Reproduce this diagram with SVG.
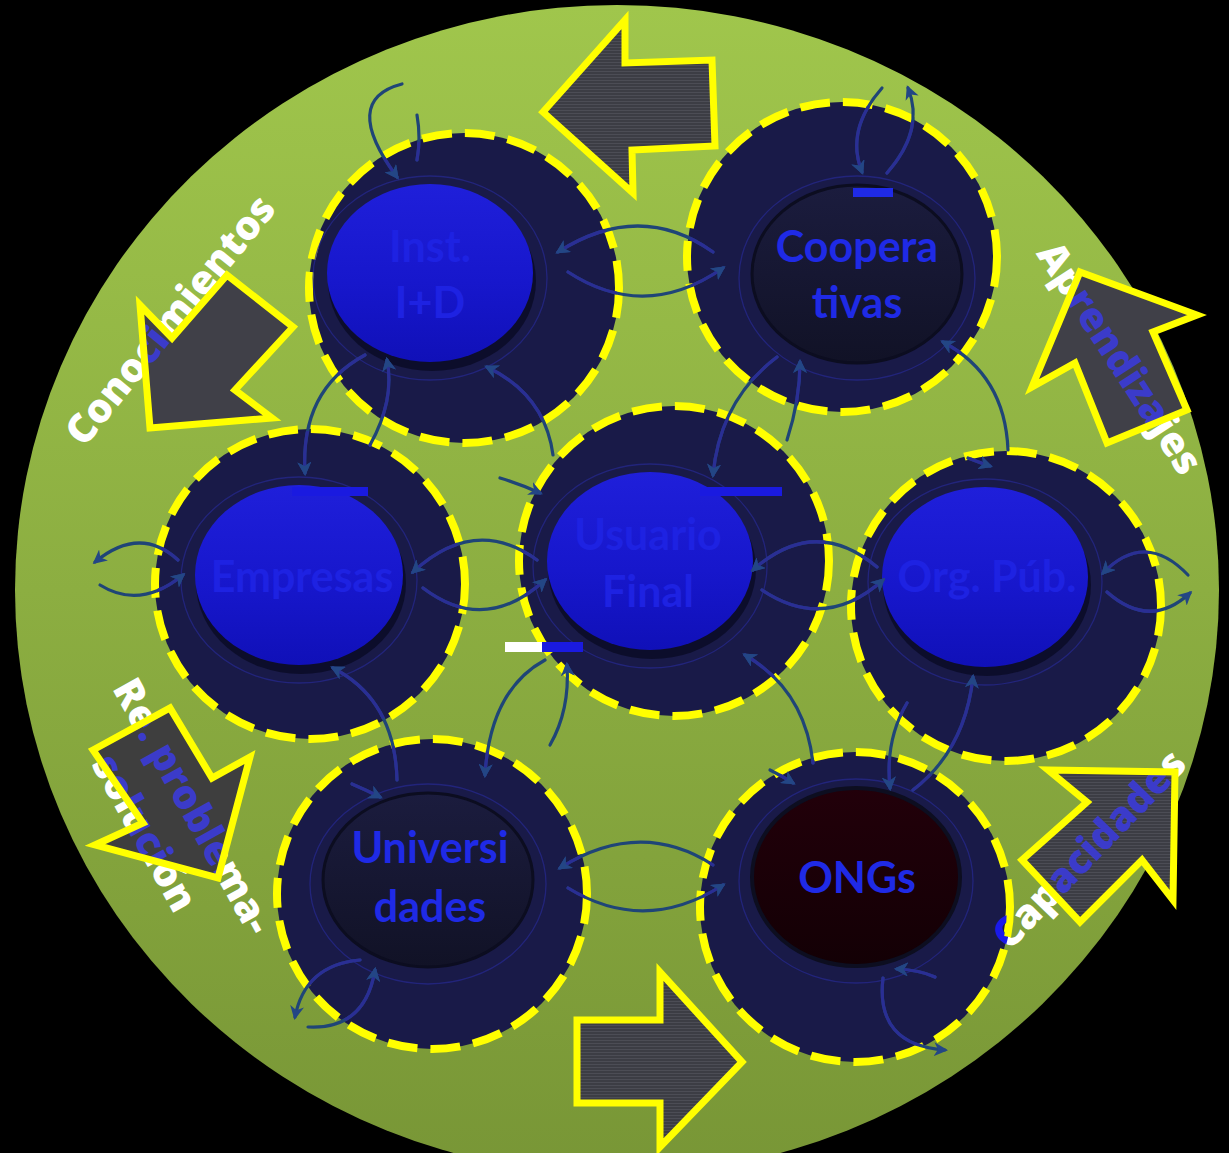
<svg xmlns="http://www.w3.org/2000/svg" width="1229" height="1153" viewBox="0 0 1229 1153">
<defs>
<style>
.ring{fill:#191a48;stroke:#ffff00;stroke-width:8;stroke-dasharray:30 13}
.halo{fill:none;stroke:#26288c;stroke-width:1.3;opacity:.75}
.shadow{fill:#0b0c28;opacity:.9}
.lbl{font-family:"Open Sans","DejaVu Sans",sans-serif;font-weight:800;font-size:40px;text-anchor:middle}
.ntxt{font-family:Lato,"Liberation Sans",sans-serif;font-weight:700;font-size:43px;text-anchor:middle}
.conn path{fill:none;stroke-width:3.2;stroke-linecap:round}
.conn path.a{marker-end:url(#ah)}
.blk{stroke:#ffff00;stroke-width:7;stroke-linejoin:miter}
</style>
<linearGradient id="green" x1="0" y1="0" x2="0" y2="1"><stop offset="0" stop-color="#a0c64c"/><stop offset="1" stop-color="#789636"/></linearGradient>
<linearGradient id="btnB" x1="0" y1="0" x2="0" y2="1"><stop offset="0" stop-color="#1f1fda"/><stop offset=".55" stop-color="#1717cc"/><stop offset="1" stop-color="#1010b8"/></linearGradient>
<linearGradient id="btnD" x1="0" y1="0" x2="0" y2="1"><stop offset="0" stop-color="#1b1c3e"/><stop offset="1" stop-color="#111226"/></linearGradient>
<linearGradient id="btnR" x1="0" y1="0" x2="0" y2="1"><stop offset="0" stop-color="#22000a"/><stop offset="1" stop-color="#130005"/></linearGradient>
<pattern id="stripes" patternUnits="userSpaceOnUse" width="6" height="3"><rect width="6" height="3" fill="#3c3d44"/><rect y="2" width="6" height="1" fill="#4c4d55"/></pattern>
<marker id="ah" markerUnits="userSpaceOnUse" markerWidth="16" markerHeight="14" refX="11" refY="7" orient="auto"><path d="M0,0 L14,7 L0,14 L4,7 z" fill="#234685"/></marker>
<polygon id="arrA" points="543,112 625,20 625,63 712,60 715,146 632,150 633,193"/>
<polygon id="arrB" points="150,428 140,305 172,338 227,275 293,327 235,390 272,418"/>
<polygon id="arrC" points="1080,272 1197,315 1153,332 1187,410 1107,443 1075,363 1032,387"/>
<polygon id="arrD" points="93,750 170,708 212,778 250,757 218,878 95,845 143,823"/>
<polygon id="arrE" points="1048,770 1175,772 1173,900 1142,860 1080,922 1022,860 1087,802"/>
<polygon id="arrF" points="577,1020 660,1020 660,972 742,1062 660,1147 660,1103 577,1103"/>
<clipPath id="nodeclip">
<circle cx="464" cy="288" r="153"/><circle cx="842" cy="257" r="153"/><circle cx="310" cy="584" r="153"/><circle cx="674" cy="561" r="153"/><circle cx="1006" cy="606" r="153"/><circle cx="432" cy="894" r="153"/><circle cx="855" cy="907" r="153"/>
</clipPath>
<pattern id="pB" patternUnits="userSpaceOnUse" width="1229" height="1153" patternTransform="rotate(51 170 320)"><rect width="1229" height="1153" fill="#ffffff"/><use href="#arrB" fill="#3b3bca" class="blk"/></pattern>
<pattern id="pC" patternUnits="userSpaceOnUse" width="1229" height="1153" patternTransform="rotate(-57 1120 358)"><rect width="1229" height="1153" fill="#ffffff"/><use href="#arrC" fill="#3b3bca" class="blk"/></pattern>
<pattern id="pD" patternUnits="userSpaceOnUse" width="1229" height="1153" patternTransform="rotate(-61 193 806)"><rect width="1229" height="1153" fill="#ffffff"/><use href="#arrD" fill="#3b3bca" class="blk"/></pattern>
<pattern id="pE" patternUnits="userSpaceOnUse" width="1229" height="1153" patternTransform="rotate(46 1089 849)"><rect width="1229" height="1153" fill="#ffffff"/><circle cx="855" cy="907" r="156" class="ring" style="fill:#1a1aea"/><use href="#arrE" fill="#3b3bca" class="blk"/></pattern>
</defs>

<rect width="1229" height="1153" fill="#000000"/>
<ellipse cx="617" cy="590" rx="602" ry="585" fill="url(#green)"/>

<g id="n-inst">
<circle class="ring" cx="464" cy="288" r="155"/>
<ellipse class="halo" cx="430" cy="278" rx="117" ry="102"/>
<ellipse class="shadow" cx="432" cy="281" rx="104" ry="90"/>
<ellipse cx="430" cy="273" rx="103" ry="89" fill="url(#btnB)"/>
<text class="ntxt" fill="#1e22e2"><tspan x="430" y="262">Inst.</tspan><tspan x="430" y="318">I+D</tspan></text>
</g>
<g id="n-coop">
<circle class="ring" cx="842" cy="257" r="155"/>
<ellipse class="halo" cx="857" cy="278" rx="118" ry="102"/>
<ellipse cx="857" cy="274" rx="105" ry="89" fill="url(#btnD)" stroke="#0c0d20" stroke-width="3"/>
<rect x="853" y="188" width="40" height="9" fill="#1f2ae6"/>
<text class="ntxt" fill="#1f2ae6"><tspan x="857" y="262">Coopera</tspan><tspan x="857" y="318">tivas</tspan></text>
</g>
<g id="n-empresas">
<circle class="ring" cx="310" cy="584" r="155"/>
<ellipse class="halo" cx="299" cy="580" rx="118" ry="103"/>
<ellipse class="shadow" cx="301" cy="583" rx="105" ry="91"/>
<ellipse cx="299" cy="575" rx="104" ry="90" fill="url(#btnB)"/>
<rect x="292" y="487" width="76" height="9" fill="#1a1ae0"/>
<text class="ntxt" x="302" y="592" fill="#1e22e2">Empresas</text>
</g>
<g id="n-usuario">
<circle class="ring" cx="674" cy="561" r="155"/>
<ellipse class="halo" cx="650" cy="566" rx="117" ry="102"/>
<ellipse class="shadow" cx="652" cy="569" rx="104" ry="90"/>
<ellipse cx="650" cy="561" rx="103" ry="89" fill="url(#btnB)"/>
<rect x="700" y="487" width="82" height="9" fill="#1a1ae0"/>
<rect x="505" y="642" width="38" height="10" fill="#ffffff"/>
<rect x="542" y="642" width="41" height="10" fill="#1a1ae0"/>
<text class="ntxt" fill="#1e22e2"><tspan x="648" y="550">Usuario</tspan><tspan x="648" y="607">Final</tspan></text>
</g>
<g id="n-orgpub">
<circle class="ring" cx="1006" cy="606" r="155"/>
<ellipse class="halo" cx="985" cy="582" rx="117" ry="103"/>
<ellipse class="shadow" cx="987" cy="585" rx="104" ry="91"/>
<ellipse cx="985" cy="577" rx="103" ry="90" fill="url(#btnB)"/>
<text class="ntxt" x="987" y="592" fill="#1e22e2">Org. Púb.</text>
</g>
<g id="n-univ">
<circle class="ring" cx="432" cy="894" r="155"/>
<ellipse class="halo" cx="428" cy="884" rx="118" ry="100"/>
<ellipse cx="428" cy="880" rx="105" ry="87" fill="url(#btnD)" stroke="#0c0d20" stroke-width="3"/>
<text class="ntxt" fill="#1f2ae6"><tspan x="430" y="863">Universi</tspan><tspan x="430" y="922">dades</tspan></text>
</g>
<g id="n-ongs">
<circle class="ring" cx="855" cy="907" r="155"/>
<ellipse class="halo" cx="856" cy="881" rx="117" ry="102"/>
<ellipse cx="856" cy="877" rx="104" ry="89" fill="url(#btnR)" stroke="#0d0e20" stroke-width="4"/>
<text class="ntxt" x="857" y="893" fill="#1f2ae6">ONGs</text>
</g>

<g stroke="#1f4577">
<g id="connectors" class="conn">
<path class="a" d="M713 252 Q640 200 558 252"/>
<path class="a" d="M568 272 Q645 322 723 268"/>
<path class="a" d="M537 560 Q475 515 413 572"/>
<path class="a" d="M423 588 Q485 635 545 580"/>
<path class="a" d="M877 567 Q815 515 753 570"/>
<path class="a" d="M762 590 Q825 632 883 580"/>
<path class="a" d="M713 865 Q640 818 560 868"/>
<path class="a" d="M568 888 Q645 935 723 885"/>
<path class="a" d="M178 560 Q140 525 95 562"/>
<path class="a" d="M100 585 Q140 610 183 575"/>
<path class="a" d="M1188 575 Q1145 530 1103 573"/>
<path class="a" d="M1107 592 Q1150 630 1190 593"/>
<path class="a" d="M402 84 Q340 100 397 177"/>
<path d="M417 115 Q421 138 417 160"/>
<path class="a" d="M882 88 Q845 130 862 172"/>
<path class="a" d="M887 173 Q925 130 908 88"/>
<path class="a" d="M360 960 Q305 965 295 1017"/>
<path class="a" d="M308 1027 Q365 1030 375 970"/>
<path class="a" d="M883 978 Q875 1045 945 1050"/>
<path class="a" d="M935 977 Q920 970 897 969"/>
<path class="a" d="M365 355 Q300 390 305 473"/>
<path class="a" d="M370 445 Q395 400 387 360"/>
<path class="a" d="M553 455 Q545 395 487 367"/>
<path class="a" d="M500 478 Q520 484 540 493"/>
<path class="a" d="M777 357 Q720 400 713 475"/>
<path class="a" d="M787 440 Q800 400 800 362"/>
<path class="a" d="M1008 450 Q1005 375 943 342"/>
<path class="a" d="M968 458 Q978 462 990 466"/>
<path class="a" d="M545 660 Q490 690 485 775"/>
<path class="a" d="M550 745 Q570 710 567 665"/>
<path class="a" d="M397 780 Q395 700 333 668"/>
<path class="a" d="M352 784 Q366 790 380 797"/>
<path class="a" d="M813 763 Q805 690 745 655"/>
<path class="a" d="M770 770 Q782 776 793 783"/>
<path class="a" d="M907 703 Q885 740 890 788"/>
<path class="a" d="M913 790 Q965 750 973 677"/>
</g>
</g>
<use href="#connectors" stroke="#2a2e94" clip-path="url(#nodeclip)"/>

<g id="block-arrows">
<use href="#arrA" class="blk" fill="url(#stripes)"/>
<use href="#arrB" class="blk" fill="#404048"/>
<use href="#arrC" class="blk" fill="#404048"/>
<use href="#arrD" class="blk" fill="#3e3e3e"/>
<use href="#arrE" class="blk" fill="url(#stripes)"/>
<use href="#arrF" class="blk" fill="url(#stripes)"/>
</g>

<g id="labels">
<text class="lbl" x="170" y="320" dy=".35em" transform="rotate(-51 170 320)" fill="url(#pB)">Conocimientos</text>
<text class="lbl" x="1120" y="358" dy=".35em" transform="rotate(57 1120 358)" fill="url(#pC)">Aprendizajes</text>
<text class="lbl" transform="rotate(61 193 806)" fill="url(#pD)"><tspan x="193" y="806" dy=".35em">Re. problema-</tspan><tspan x="193" dy="55">solución</tspan></text>
<text class="lbl" x="1089" y="849" dy=".35em" transform="rotate(-46 1089 849)" fill="url(#pE)">Capacidades</text>
</g>
</svg>
